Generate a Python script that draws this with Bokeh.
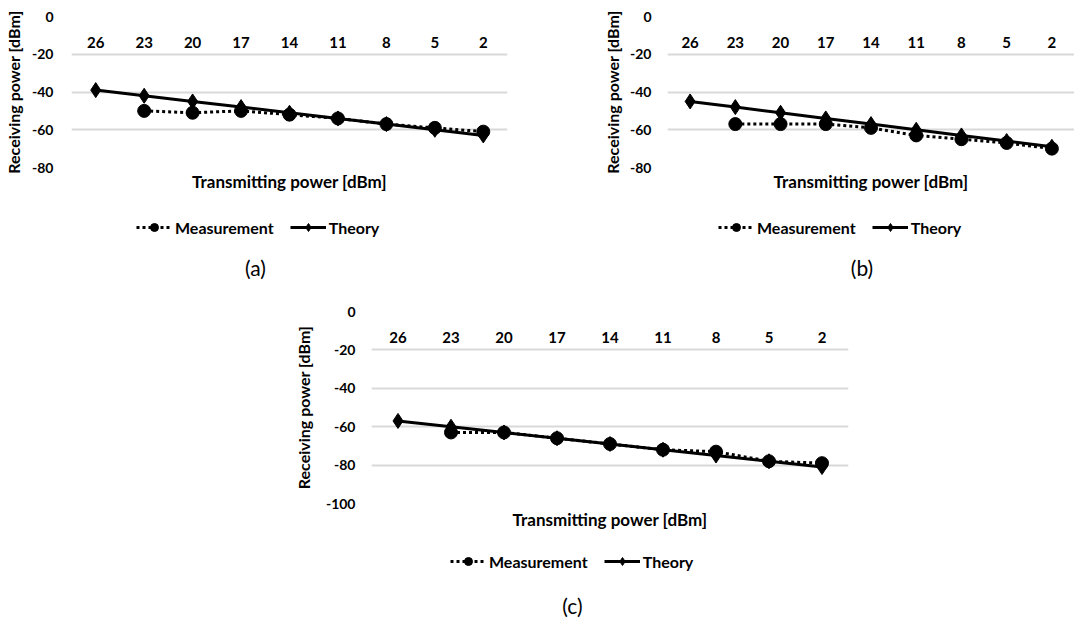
from bokeh.plotting import figure
from bokeh.models import (FactorRange, Range1d, CategoricalAxis, LinearAxis, FixedTicker,
                          Legend, LegendItem, Label, Spacer, Grid, ColumnDataSource)
from bokeh.layouts import row, column
from bokeh.embed import file_html
from bokeh.resources import INLINE

nan = float("nan")

# ---- data ----
categories = ["26", "23", "20", "17", "14", "11", "8", "5", "2"]
theory_a = [-39, -42, -45, -48, -51, -54, -57, -60, -63]
meas_a = [nan, -50, -51, -50, -52, -54, -57, -59, -61]
theory_b = [-45, -48, -51, -54, -57, -60, -63, -66, -69]
meas_b = [nan, -57, -57, -57, -59, -63, -65, -67, -70]
theory_c = [-57, -60, -63, -66, -69, -72, -75, -78, -81]
meas_c = [nan, -63, -63, -66, -69, -72, -73, -78, -79]
yticks_ab = [0, -20, -40, -60, -80]
yticks_c = [0, -20, -40, -60, -80, -100]
captions = ["(a)", "(b)", "(c)"]
x_title = "Transmitting power [dBm]"
y_title = "Receiving power [dBm]"
series_names = ["Measurement", "Theory"]

FONT = "Lato"
GRID = "#d9d9d9"
MEAS_LINE = dict(line_color="black", line_width=3, line_dash="3 3")
MEAS_MARK = dict(marker="circle", size=13, color="black")
TH_LINE = dict(line_color="black", line_width=3)
TH_MARK = dict(marker="diamond", size=15, color="black")


def make_chart(theory, meas, yticks, width, height, mb_left, mb_right, mb_top, mb_bottom,
               ylab_standoff, ytitle_standoff, xtitle_standoff):
    p = figure(x_range=FactorRange(*categories), y_range=Range1d(min(yticks), 0),
               width=width, height=height, output_backend="svg", toolbar_location=None,
               x_axis_location=None, y_axis_location=None,
               min_border_left=mb_left, min_border_right=mb_right,
               min_border_top=mb_top, min_border_bottom=mb_bottom)
    p.outline_line_color = None
    p.xgrid.visible = False
    p.ygrid.visible = False

    yaxis = LinearAxis(ticker=FixedTicker(ticks=yticks),
                       major_label_overrides={t: str(t) for t in yticks},
                       axis_label=y_title)
    yaxis.axis_line_color = None
    yaxis.major_tick_line_color = None
    yaxis.minor_tick_line_color = None
    yaxis.major_tick_out = 0
    yaxis.major_tick_in = 0
    yaxis.major_label_standoff = ylab_standoff
    yaxis.major_label_text_font = FONT
    yaxis.major_label_text_font_style = "bold"
    yaxis.major_label_text_font_size = "14px"
    yaxis.major_label_text_color = "black"
    yaxis.axis_label_text_font = FONT
    yaxis.axis_label_text_font_style = "bold"
    yaxis.axis_label_text_font_size = "16px"
    yaxis.axis_label_text_color = "black"
    yaxis.axis_label_standoff = ytitle_standoff
    p.add_layout(yaxis, "left")
    p.add_layout(Grid(dimension=1, ticker=yaxis.ticker, grid_line_color=GRID,
                      grid_line_width=2))

    # category axis drawn at y = 0, labels just below the zero line
    xaxis = CategoricalAxis(fixed_location=0)
    xaxis.axis_line_color = None
    xaxis.major_tick_line_color = None
    xaxis.minor_tick_line_color = None
    xaxis.major_tick_out = 0
    xaxis.major_tick_in = 0
    xaxis.major_label_standoff = 20
    xaxis.major_label_text_font = FONT
    xaxis.major_label_text_font_style = "bold"
    xaxis.major_label_text_font_size = "15px"
    xaxis.major_label_text_color = "black"
    p.add_layout(xaxis, "below")

    # x axis title (an axis below with no ticks of its own)
    xt = CategoricalAxis(ticker=FixedTicker(ticks=[]), axis_label=x_title)
    xt.axis_line_color = None
    xt.major_tick_line_color = None
    xt.minor_tick_line_color = None
    xt.major_tick_out = 0
    xt.major_tick_in = 0
    xt.major_label_standoff = 0
    xt.axis_label_standoff = xtitle_standoff
    xt.axis_label_text_font = FONT
    xt.axis_label_text_font_style = "bold"
    xt.axis_label_text_font_size = "17px"
    xt.axis_label_text_color = "black"
    p.add_layout(xt, "below")

    src = ColumnDataSource(dict(x=categories, theory=theory, meas=meas))
    p.line("x", "meas", source=src, **MEAS_LINE)
    p.scatter("x", "meas", source=src, **MEAS_MARK)
    p.line("x", "theory", source=src, **TH_LINE)
    p.scatter("x", "theory", source=src, **TH_MARK)
    return p


def make_legend_box(width, frame_width, height, legend_x, legend_y, caption,
                    caption_x, caption_y):
    # in a column Bokeh aligns this box's frame with the chart frame above it
    q = figure(width=width, height=height, x_range=Range1d(0, frame_width),
               y_range=Range1d(0, height), output_backend="svg", toolbar_location=None,
               x_axis_location=None, y_axis_location=None,
               min_border=0)
    q.outline_line_color = None
    q.xgrid.visible = False
    q.ygrid.visible = False
    proxy = ColumnDataSource(dict(x=[nan], y=[nan]))
    ml = q.line("x", "y", source=proxy, **MEAS_LINE)
    ms = q.scatter("x", "y", source=proxy, **MEAS_MARK)
    tl = q.line("x", "y", source=proxy, **TH_LINE)
    ts = q.scatter("x", "y", source=proxy, **TH_MARK)
    legend = Legend(items=[LegendItem(label=series_names[0], renderers=[ml, ms]),
                           LegendItem(label=series_names[1], renderers=[tl, ts])],
                    orientation="horizontal", location=(legend_x, legend_y))
    legend.border_line_color = None
    legend.background_fill_alpha = 0
    legend.label_text_font = FONT
    legend.label_text_font_style = "bold"
    legend.label_text_font_size = "16px"
    legend.label_text_color = "black"
    legend.glyph_width = 36
    legend.glyph_height = 20
    legend.spacing = 16
    legend.padding = 0
    legend.margin = 0
    legend.label_standoff = 3
    q.add_layout(legend)
    q.add_layout(Label(x=caption_x, y=caption_y, text=caption, text_align="center",
                       text_baseline="middle", text_font=FONT, text_font_size="21px",
                       text_color="black"))
    return q


pa = make_chart(theory_a, meas_a, yticks_ab, 600, 197, 71, 93, 16, 30, 18, 6, 3)
la = make_legend_box(600, 436, 88, 65, 48, captions[0], 184, 18)
pb = make_chart(theory_b, meas_b, yticks_ab, 474, 197, 66, 0, 16, 30, 16, 5, 3)
lb = make_legend_box(474, 408, 88, 51, 48, captions[1], 195, 18)
pc = make_chart(theory_c, meas_c, yticks_c, 578, 248, 81, 20, 26, 30, 16, 10, 5)
lc = make_legend_box(578, 477, 90, 79, 52, captions[2], 201, 18)

layout = column(row(column(pa, la), column(pb, lb)),
                row(Spacer(width=290, height=10), column(pc, lc)))
open("out.html", "w").write(file_html(layout, INLINE))
